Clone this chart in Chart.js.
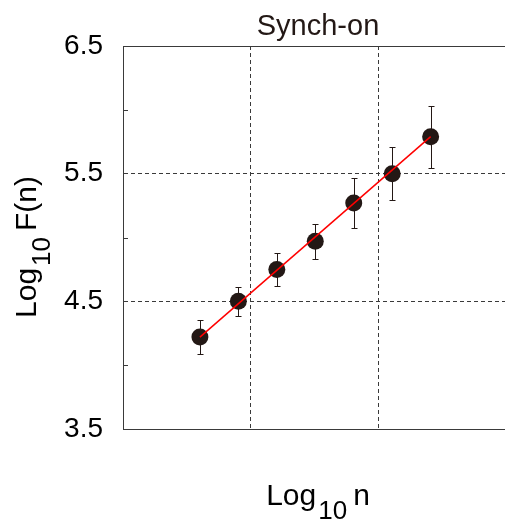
<!DOCTYPE html>
<html>
<head>
<meta charset="utf-8">
<script src="https://cdn.jsdelivr.net/npm/chart.js@4/dist/chart.umd.min.js"></script>
<style>
html, body { margin: 0; padding: 0; background: #fff; overflow: hidden; }
</style>
</head>
<body>
<canvas id="chart" width="505" height="519"></canvas>
<script>
// log10 n (box sizes 4..256) and log10 F(n)
const logN = [0.602, 0.903, 1.204, 1.505, 1.806, 2.107, 2.408];
const logF = [4.22, 4.50, 4.75, 4.97, 5.27, 5.50, 5.79];
const errF = [0.13, 0.115, 0.13, 0.137, 0.196, 0.206, 0.243];
// fitted line end points
const fitN = [0.602, 2.408];
const fitF = [4.22, 5.79];
const yTickLabels = ['3.5', '4.5', '5.5', '6.5'];
const yMinorTicks = [4, 5, 6];
const xGridValues = [1, 2];
const yGridValues = [4.5, 5.5];

const FONT = '"Liberation Sans", Arial, Helvetica, sans-serif';
const INK = '#231815';
const AXIS = '#3a3a3a';

const near = (v, list) => list.some(t => Math.abs(t - v) < 1e-6);

function drawLogLabel(ctx, rest, cx, base) {
    const big = '30px ' + FONT;
    const small = '26px ' + FONT;
    ctx.font = big;
    const wLog = ctx.measureText('Log').width;
    const wRest = ctx.measureText(rest).width;
    ctx.font = small;
    const wSub = ctx.measureText('10').width;
    const gap1 = 2, gap2 = 6;
    const total = wLog + gap1 + wSub + gap2 + wRest;
    const x0 = cx - total / 2;
    ctx.textAlign = 'left';
    ctx.textBaseline = 'alphabetic';
    ctx.fillStyle = '#000';
    ctx.font = big;
    ctx.fillText('Log', x0, base);
    ctx.font = small;
    ctx.fillText('10', x0 + wLog + gap1, base + 14);
    ctx.font = big;
    ctx.fillText(rest, x0 + wLog + gap1 + wSub + gap2, base);
}

const decor = {
    id: 'decor',
    beforeDatasetsDraw(chart) {
        // error bars, behind the markers
        const { ctx, scales: { x, y } } = chart;
        ctx.save();
        ctx.strokeStyle = INK;
        ctx.lineWidth = 1;
        logN.forEach((n, i) => {
            const px = Math.round(x.getPixelForValue(n)) + 0.5;
            const top = Math.round(y.getPixelForValue(logF[i] + errF[i])) + 0.5;
            const bot = Math.round(y.getPixelForValue(logF[i] - errF[i])) + 0.5;
            ctx.beginPath();
            ctx.moveTo(px, top); ctx.lineTo(px, bot);
            ctx.moveTo(px - 3, top); ctx.lineTo(px + 3, top);
            ctx.moveTo(px - 3, bot); ctx.lineTo(px + 3, bot);
            ctx.stroke();
        });
        ctx.restore();
    },
    afterDraw(chart) {
        const { ctx, chartArea, scales: { y } } = chart;
        ctx.save();
        // inward minor ticks on the y axis
        ctx.strokeStyle = AXIS;
        ctx.lineWidth = 1;
        yMinorTicks.forEach(v => {
            const py = Math.round(y.getPixelForValue(v)) + 0.5;
            ctx.beginPath();
            ctx.moveTo(chartArea.left, py);
            ctx.lineTo(chartArea.left + 5, py);
            ctx.stroke();
        });
        // title
        ctx.fillStyle = INK;
        ctx.font = '29px ' + FONT;
        ctx.textAlign = 'center';
        ctx.textBaseline = 'alphabetic';
        ctx.fillText('Synch-on', 318, 35);
        // axis titles
        drawLogLabel(ctx, 'n', 318, 505);
        ctx.translate(36, 247);
        ctx.rotate(-Math.PI / 2);
        drawLogLabel(ctx, 'F(n)', 0, 0);
        ctx.restore();
    }
};

new Chart(document.getElementById('chart'), {
    type: 'scatter',
    data: {
        datasets: [
            {
                label: 'fit',
                data: fitN.map((n, i) => ({ x: n, y: fitF[i] })),
                showLine: true,
                borderColor: '#ff0000',
                borderWidth: 1.5,
                pointRadius: 0,
                order: 0,
            },
            {
                label: 'Synch-on',
                data: logN.map((n, i) => ({ x: n, y: logF[i] })),
                backgroundColor: INK,
                borderColor: INK,
                borderWidth: 0,
                pointRadius: 8.5,
                order: 1,
            },
        ],
    },
    options: {
        responsive: false,
        animation: false,
        layout: { autoPadding: false, padding: { top: 46, left: 0, right: 0, bottom: 0 } },
        plugins: {
            legend: { display: false },
            tooltip: { enabled: false },
        },
        scales: {
            x: {
                type: 'linear',
                position: 'bottom',
                min: 0,
                max: 2.99,
                ticks: { display: false, stepSize: 1 },
                grid: {
                    color: c => (c.tick && near(c.tick.value, xGridValues)) ? AXIS : 'transparent',
                    drawTicks: false,
                    lineWidth: 1,
                },
                border: { color: AXIS, width: 1, dash: [4, 3] },
                afterFit: s => { s.height = 90; },
            },
            xTop: {
                type: 'linear',
                position: 'top',
                min: 0,
                max: 2.99,
                ticks: { display: false },
                grid: { display: false, drawTicks: false },
                border: { color: AXIS, width: 1 },
                afterFit: s => { s.height = 0; },
            },
            y: {
                type: 'linear',
                min: 3.5,
                max: 6.5,
                ticks: {
                    stepSize: 0.5,
                    padding: 20,
                    color: '#000',
                    font: { family: FONT, size: 28 },
                    callback: v => yTickLabels.includes(Number(v).toFixed(1)) ? Number(v).toFixed(1) : '',
                },
                grid: {
                    color: c => (c.tick && near(c.tick.value, yGridValues)) ? AXIS : 'transparent',
                    drawTicks: false,
                    lineWidth: 1,
                },
                border: { color: AXIS, width: 1, dash: [4, 3] },
                afterFit: s => { s.width = 123; },
            },
        },
    },
    plugins: [decor],
});
</script>
</body>
</html>
